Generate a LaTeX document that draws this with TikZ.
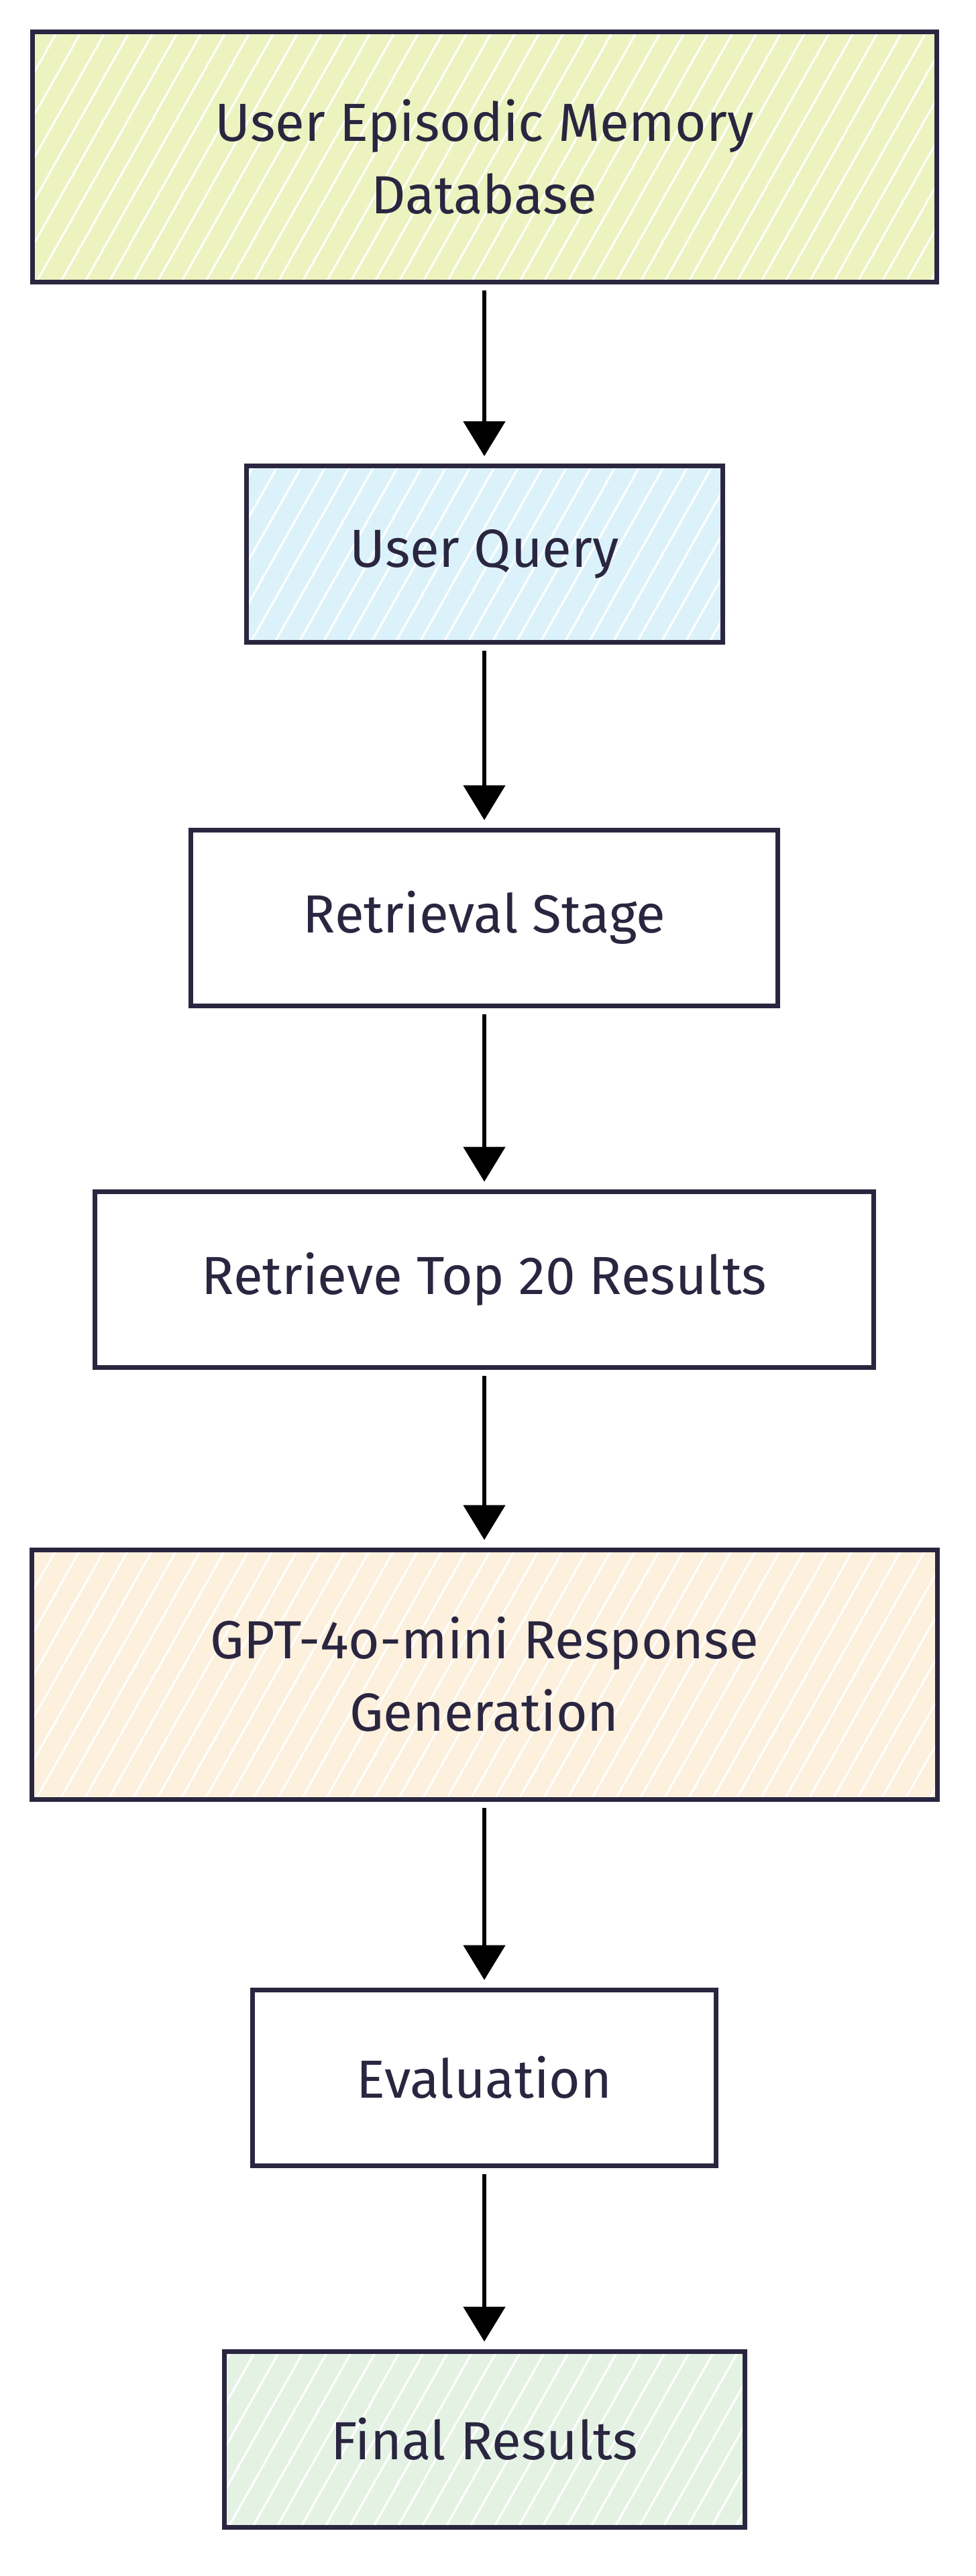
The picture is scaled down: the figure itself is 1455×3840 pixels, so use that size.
\documentclass[tikz,border=0pt]{standalone}
\usepackage{fontspec}
\setmainfont{Fira Sans}
\usetikzlibrary{arrows.meta,calc}
\definecolor{ink}{RGB}{42,38,64}
\definecolor{fyel}{RGB}{236,243,190}
\definecolor{fblue}{RGB}{220,242,251}
\definecolor{forange}{RGB}{253,240,220}
\definecolor{fgreen}{RGB}{228,242,228}
\pgfdeclarelayer{bg}
\pgfsetlayers{bg,main}
\tikzset{
  box/.style={draw=ink, line width=7pt, text=ink, align=center, inner sep=0pt,
    font=\fontsize{80}{108}\selectfont},
  arr/.style={draw=black, line width=5.5pt, -{Triangle[length=52pt,width=62pt]},
    shorten <=9pt, shorten >=11pt},
  hatchline/.style={draw=white, line width=3pt}
}
\newcommand\hatchbox[2]{%
  \begin{pgfonlayer}{bg}
    \fill[#2] (#1.south west) rectangle (#1.north east);
    \begin{scope}
      \clip (#1.south west) rectangle (#1.north east);
      \foreach \k in {-460,-424,...,1400}
        \draw[hatchline] ($(#1.south west)+(\k,0)$) -- ++(260,-460);
    \end{scope}
  \end{pgfonlayer}}
\begin{document}
\begin{tikzpicture}[x=1pt,y=-1pt]
\useasboundingbox (0,0) rectangle (1455,3840);

\node[box, minimum width=1348pt, minimum height=372pt] (db) at (722,234) {User Episodic Memory\\Database};
\node[box, minimum width=710pt, minimum height=263pt] (q) at (722,826) {User Query};
\node[box, minimum width=875pt, minimum height=262pt] (rs) at (722,1368) {Retrieval Stage};
\node[box, minimum width=1161pt, minimum height=262pt] (top) at (722,1907) {Retrieve Top 20 Results};
\node[box, minimum width=1350pt, minimum height=372pt] (gpt) at (722,2496) {GPT-4o-mini Response\\Generation};
\node[box, minimum width=691pt, minimum height=262pt] (ev) at (722,3097) {Evaluation};
\node[box, minimum width=776pt, minimum height=262pt] (fr) at (722,3636) {Final Results};

\hatchbox{db}{fyel}
\hatchbox{q}{fblue}
\hatchbox{gpt}{forange}
\hatchbox{fr}{fgreen}

\draw[arr] (db.south) -- (q.north);
\draw[arr] (q.south) -- (rs.north);
\draw[arr] (rs.south) -- (top.north);
\draw[arr] (top.south) -- (gpt.north);
\draw[arr] (gpt.south) -- (ev.north);
\draw[arr] (ev.south) -- (fr.north);
\end{tikzpicture}
\end{document}
